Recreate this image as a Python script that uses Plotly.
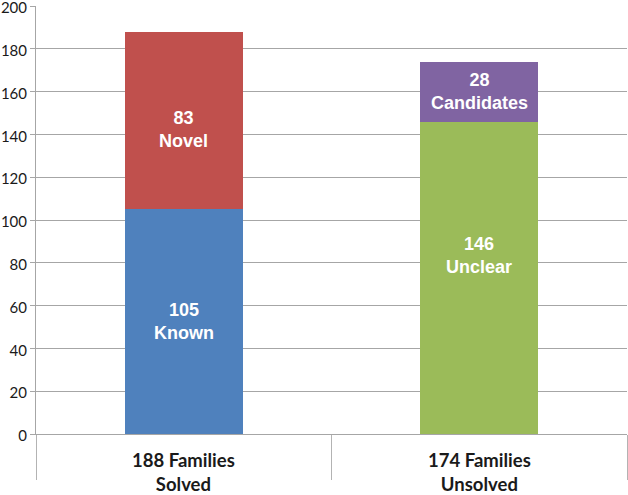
import plotly.graph_objects as go

categories = ["188 Families<br>Solved", "174 Families<br>Unsolved"]
cat_keys = ["solved", "unsolved"]

# stacked segments
bottom_values = [105, 146]
bottom_names = ["Known", "Unclear"]
bottom_colors = ["#4F81BD", "#9BBB59"]

top_values = [83, 28]
top_names = ["Novel", "Candidates"]
top_colors = ["#C0504D", "#8064A2"]

y_ticks = [0, 20, 40, 60, 80, 100, 120, 140, 160, 180, 200]

label_font = dict(family="Liberation Sans, Arial, sans-serif", size=18, color="white")

fig = go.Figure()
fig.add_trace(go.Bar(
    x=cat_keys, y=bottom_values,
    marker=dict(color=bottom_colors, line=dict(width=0)),
    hoverinfo="skip",
))
fig.add_trace(go.Bar(
    x=cat_keys, y=top_values,
    marker=dict(color=top_colors, line=dict(width=0)),
    hoverinfo="skip",
))

# data labels placed at segment middles (with small pixel nudges as in the original)
bottom_nudge = [0, 22]
top_nudge = [-9, 0]
for i, key in enumerate(cat_keys):
    fig.add_annotation(
        x=key, y=bottom_values[i] / 2, xref="x", yref="y", showarrow=False,
        yshift=bottom_nudge[i],
        text=f"<b>{bottom_values[i]}<br>{bottom_names[i]}</b>", font=label_font,
    )
    fig.add_annotation(
        x=key, y=bottom_values[i] + top_values[i] / 2, xref="x", yref="y",
        showarrow=False, yshift=top_nudge[i],
        text=f"<b>{top_values[i]}<br>{top_names[i]}</b>", font=label_font,
    )

for key, lab in zip(cat_keys, categories):
    fig.add_annotation(
        x=key, y=0, xref="x", yref="paper", yanchor="top", yshift=-13,
        text=f"<b>{lab}</b>", showarrow=False,
        font=dict(family="Lato, sans-serif", size=18.5, color="#1a1a1a"),
    )

fig.update_layout(
    width=628, height=495,
    margin=dict(l=36, r=1, t=6, b=61, autoexpand=False),
    paper_bgcolor="white", plot_bgcolor="white",
    barmode="stack", bargap=0.6, showlegend=False,
    xaxis=dict(
        type="category", showticklabels=False, automargin=False,
        ticks="outside", tickson="boundaries", ticklen=45,
        tickcolor="#b3b3b3", tickwidth=1,
        showline=True, linecolor="#a6a6a6", linewidth=1,
        showgrid=False, zeroline=False,
    ),
    yaxis=dict(
        range=[0, 200], tickvals=y_ticks, automargin=False,
        ticklabeloverflow="allow", ticklabelshift=2,
        ticks="outside", ticklen=5, tickcolor="#a6a6a6",
        showline=True, linecolor="#a6a6a6", linewidth=1,
        showgrid=True, gridcolor="#a6a6a6", gridwidth=1,
        zeroline=False,
        tickfont=dict(family="Lato, sans-serif", size=15, color="#1a1a1a"),
    ),
)

fig.write_html(
    "out.html",
    config={"displayModeBar": False},
    post_script="document.body.style.margin='0';document.body.style.overflow='hidden';",
)
